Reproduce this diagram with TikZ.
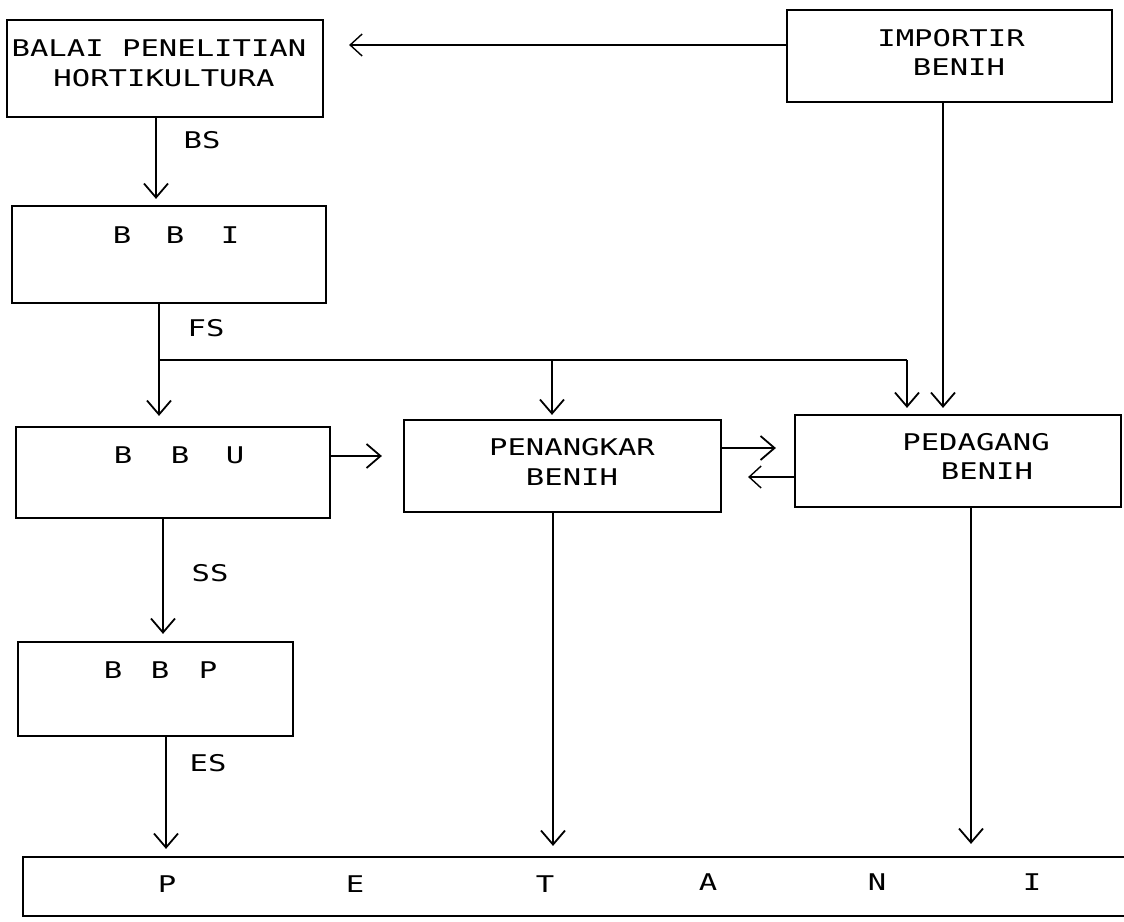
\documentclass[tikz,border=0pt]{standalone}
\usepackage{fontspec}
\newfontfamily\dotfont[FakeStretch=1.33]{DejaVu Sans Mono}
\usetikzlibrary{arrows.meta,calc}
\begin{document}
\begin{tikzpicture}[x=1pt,y=-1pt,
  box/.style={draw, line width=2.2pt, rectangle, inner sep=0pt},
  txt/.style={font=\dotfont\fontsize{23}{26}\selectfont, inner sep=0pt, anchor=center},
  conn/.style={line width=2.2pt, -{Straight Barb[length=14pt,width=24pt,line width=1.8pt]}},
  thinconn/.style={line width=1.3pt, -{Straight Barb[length=12pt,width=22pt,line width=1.4pt]}},
  plain/.style={line width=2.2pt}]
\useasboundingbox (0,0) rectangle (1124,921);
\clip (0,0) rectangle (1124,921);
% boxes
\node[box, minimum width=316pt, minimum height=97pt] (balai) at (165,68.5) {};
\node[box, minimum width=325pt, minimum height=92pt] (imp) at (949.5,56) {};
\node[box, minimum width=314pt, minimum height=97pt] (bbi) at (169,254.5) {};
\node[box, minimum width=314pt, minimum height=91pt] (bbu) at (173,472.5) {};
\node[box, minimum width=317pt, minimum height=92pt] (pen) at (562.5,466) {};
\node[box, minimum width=326pt, minimum height=92pt] (ped) at (958,461) {};
\node[box, minimum width=275pt, minimum height=94pt] (bbp) at (155.5,689) {};
\node[box, minimum width=1120pt, minimum height=59pt] (pet) at (583,886.5) {};
% texts
\node[txt] (t1) at (159,48) {BALAI PENELITIAN};
\node[txt] (t2) at (164,78) {HORTIKULTURA};
\node[txt] (t3) at (951,38) {IMPORTIR};
\node[txt] (t4) at (959,67) {BENIH};
\node[txt] (t5) at (122,235) {B};
\node[txt] (t6) at (175,235) {B};
\node[txt] (t7) at (230,235) {I};
\node[txt] (t8) at (123,455) {B};
\node[txt] (t9) at (180,455) {B};
\node[txt] (t10) at (235,455) {U};
\node[txt] (t11) at (572,447) {PENANGKAR};
\node[txt] (t12) at (572,477) {BENIH};
\node[txt] (t13) at (976,442) {PEDAGANG};
\node[txt] (t14) at (987,471) {BENIH};
\node[txt] (t15) at (113,670) {B};
\node[txt] (t16) at (160,670) {B};
\node[txt] (t17) at (208,670) {P};
\node[txt] (p1) at (167,884) {P};
\node[txt] (p2) at (355,884) {E};
\node[txt] (p3) at (545,884) {T};
\node[txt] (p4) at (708,882) {A};
\node[txt] (p5) at (877,882) {N};
\node[txt] (p6) at (1032,882) {I};
% connector labels
\node[txt] (lbs) at (202,140) {BS};
\node[txt] (lfs) at (206,328) {FS};
\node[txt] (lss) at (210,573) {SS};
\node[txt] (les) at (208,763) {ES};
% connectors
\coordinate (j1) at (159,360);
\coordinate (j2) at (552,360);
\coordinate (j3) at (907,360);
\draw[thinconn, shorten >=25pt] (imp.west |- 0,45) -- (balai.east |- 0,45);
\draw[conn, shorten >=6pt] (balai.south -| 156,0) -- (bbi.north -| 156,0);
\draw[plain] (bbi.south -| 159,0) -- (j1);
\draw[conn, shorten >=10pt] (j1) -- (bbu.north -| j1);
\draw[plain] (j1) -- (j3);
\draw[conn, shorten >=4pt] (j2) -- (pen.north -| j2);
\draw[conn, shorten >=6pt] (j3) -- (ped.north -| j3);
\draw[conn, shorten >=6pt] (imp.south -| 943,0) -- (ped.north -| 943,0);
\draw[conn, shorten >=21pt] (bbu.east |- 0,456) -- (pen.west |- 0,456);
\draw[conn, shorten >=18pt] (pen.east |- 0,448) -- (ped.west |- 0,448);
\draw[thinconn, shorten >=26pt] (ped.west |- 0,477) -- (pen.east |- 0,477);
\draw[conn, shorten >=7pt] (bbu.south -| 163,0) -- (bbp.north -| 163,0);
\draw[conn, shorten >=7pt] (bbp.south -| 166,0) -- (pet.north -| 166,0);
\draw[conn, shorten >=10pt] (pen.south -| 553,0) -- (pet.north -| 553,0);
\draw[conn, shorten >=12pt] (ped.south -| 971,0) -- (pet.north -| 971,0);
\end{tikzpicture}
\end{document}
